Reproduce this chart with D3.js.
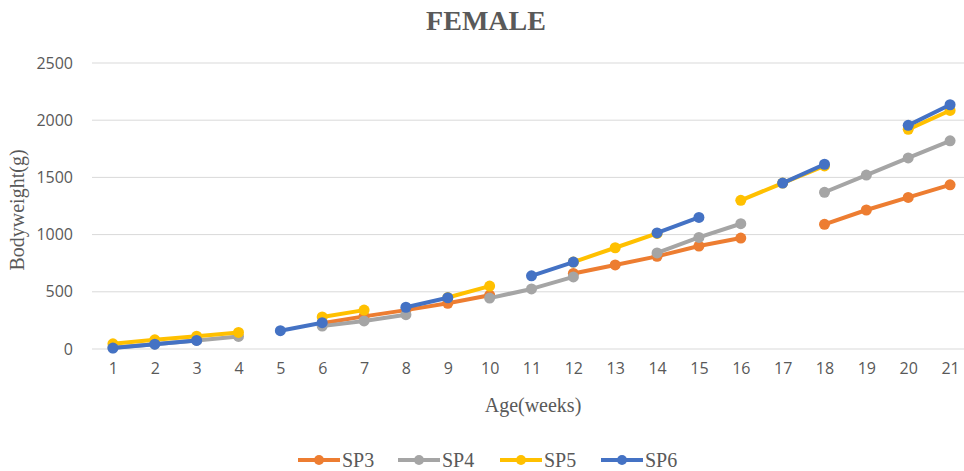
<!DOCTYPE html>
<html>
<head>
<meta charset="utf-8">
<script src="https://cdn.jsdelivr.net/npm/d3@7"></script>
<style>
  body { margin: 0; background: #fff; }
</style>
</head>
<body>
<div class="grafico"></div>
<script>
//size of the svg
var widthSVG = 964;
var heightSVG = 471;
var left = 92, right = 971, top0 = 63, bottom = 349;

//data - null means the week was not weighed (gap in the line)
var weeks = [1,2,3,4,5,6,7,8,9,10,11,12,13,14,15,16,17,18,19,20,21];
var sp3 = [null,null,null,null,null,225,285,340,400,470,null,660,735,810,900,970,null,1090,1215,1325,1435];
var sp4 = [10,42,75,110,null,200,245,300,null,445,525,630,null,840,975,1095,null,1370,1520,1670,1820];
var sp5 = [45,80,112,145,null,280,340,null,450,550,null,760,885,1010,null,1300,1450,1600,null,1920,2085];
var sp6 = [8,42,75,null,160,230,null,365,448,null,640,760,null,1015,1150,null,1450,1615,null,1955,2135];
var yTicks = [0,500,1000,1500,2000,2500];

var nomes = ['SP3','SP4','SP5','SP6'];
var series = [sp3, sp4, sp5, sp6];
var cor = ['#ED7D31','#A5A5A5','#FFC000','#4472C4'];

var svg = d3.select(".grafico")
			.append("svg")
			.attr("width", widthSVG)
			.attr("height", heightSVG);

//scales - weeks are categories, centred in their band
var xScale = d3.scalePoint()
			.domain(weeks)
			.range([left, right])
			.padding(0.5);

var yScale = d3.scaleLinear()
			.domain([0, 2500])
			.range([bottom, top0]);

//horizontal gridlines
svg.append("g")
	.selectAll("line")
	.data(yTicks)
	.enter()
	.append("line")
	.attr("x1", left)
	.attr("x2", widthSVG)
	.attr("y1", function(d) { return yScale(d); })
	.attr("y2", function(d) { return yScale(d); })
	.attr("stroke", "#D9D9D9")
	.attr("stroke-width", 1);

//y axis labels (no axis line), plain numbers without thousands separator
var y_axis = d3.axisLeft(yScale).tickValues(yTicks).tickFormat(d3.format("d")).tickSize(0).tickPadding(19);
svg.append("g")
	.attr("class", "coord y")
	.attr("transform", "translate(" + left + ",0)")
	.call(y_axis)
	.call(function(g) { g.select(".domain").remove(); })
	.selectAll("text")
	.attr("fill", "#595959")
	.style("font-family", "'Open Sans', sans-serif")
	.style("font-size", "16px");

//x axis labels
var x_axis = d3.axisBottom(xScale).tickSize(0).tickPadding(14);
svg.append("g")
	.attr("class", "coord x")
	.attr("transform", "translate(0," + bottom + ")")
	.call(x_axis)
	.call(function(g) { g.select(".domain").remove(); })
	.selectAll("text")
	.attr("fill", "#595959")
	.style("font-family", "'Open Sans', sans-serif")
	.style("font-size", "16px");

//line generator - leaves gaps where there is no value
var line = d3.line()
	.defined(function(d) { return d != null; })
	.x(function(d, i) { return xScale(weeks[i]); })
	.y(function(d) { return yScale(d); });

series.forEach(function(s, k) {
	svg.append("path")
		.datum(s)
		.attr("fill", "none")
		.attr("stroke", cor[k])
		.attr("stroke-width", 4)
		.attr("stroke-linejoin", "round")
		.attr("d", line);

	svg.append("g")
		.selectAll("circle")
		.data(s.map(function(v, i) { return {w: weeks[i], v: v}; })
			.filter(function(d) { return d.v != null; }))
		.enter()
		.append("circle")
		.attr("cx", function(d) { return xScale(d.w); })
		.attr("cy", function(d) { return yScale(d.v); })
		.attr("r", 5.5)
		.attr("fill", cor[k]);
});

//title
svg.append("text")
	.attr("x", 486)
	.attr("y", 30)
	.attr("text-anchor", "middle")
	.attr("fill", "#595959")
	.style("font-family", "'Liberation Serif', 'Times New Roman', serif")
	.style("font-weight", "bold")
	.style("font-size", "28px")
	.text("FEMALE");

//axis titles
svg.append("text")
	.attr("text-anchor", "middle")
	.attr("transform", "translate(533,412)")
	.attr("fill", "#595959")
	.style("font-family", "'Liberation Serif', 'Times New Roman', serif")
	.style("font-size", "20px")
	.text("Age(weeks)");

svg.append("text")
	.attr("text-anchor", "middle")
	.attr("transform", "translate(24,210) rotate(-90)")
	.attr("fill", "#595959")
	.style("font-family", "'Liberation Serif', 'Times New Roman', serif")
	.style("font-size", "20px")
	.text("Bodyweight(g)");

//legend
var legX = [298, 398, 500, 601];
var legenda = svg.append("g")
	.selectAll(".legendas")
	.data(nomes)
	.enter()
	.append("g")
	.classed("legendas", true)
	.attr("transform", function(d, i) { return "translate(" + legX[i] + ",460)"; });

legenda.append("line")
	.attr("x1", 0)
	.attr("x2", 42)
	.attr("stroke", function(d, i) { return cor[i]; })
	.attr("stroke-width", 4);

legenda.append("circle")
	.attr("cx", 21)
	.attr("r", 5)
	.attr("fill", function(d, i) { return cor[i]; });

legenda.append("text")
	.attr("x", 44)
	.attr("y", 7)
	.attr("fill", "#595959")
	.style("font-family", "'Liberation Serif', 'Times New Roman', serif")
	.style("font-size", "20px")
	.text(function(d) { return d; });
</script>
</body>
</html>
